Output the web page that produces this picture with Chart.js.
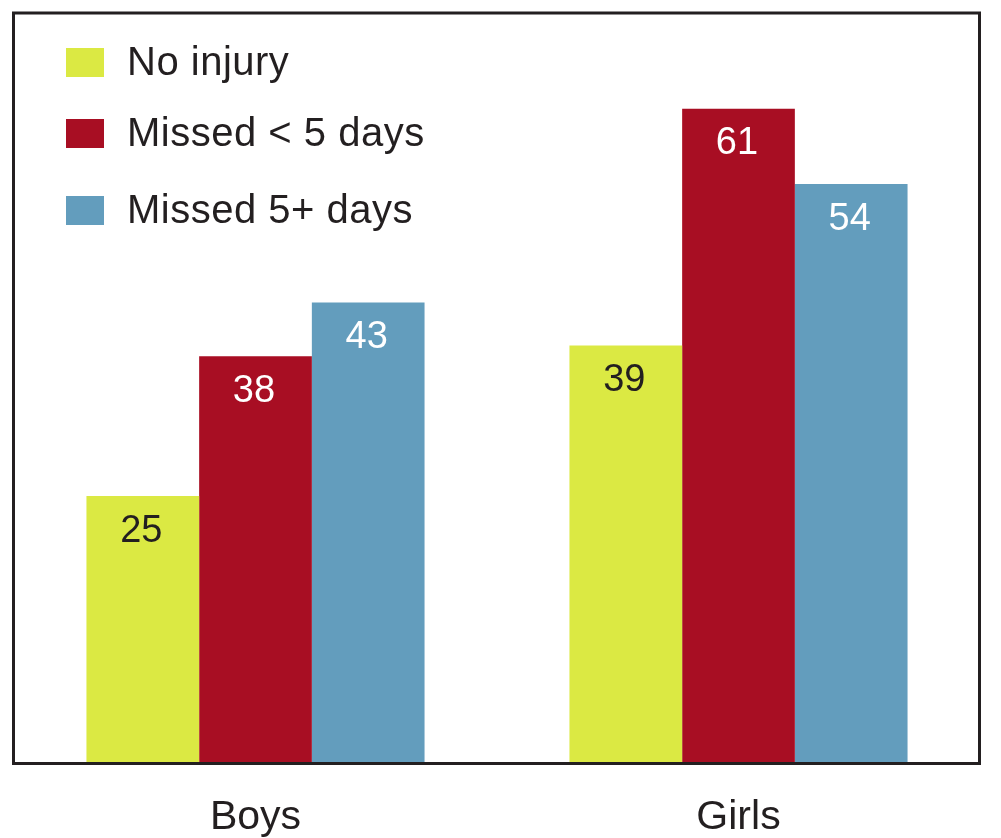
<!DOCTYPE html>
<html>
<head>
<meta charset="utf-8">
<script src="https://cdn.jsdelivr.net/npm/chart.js@4"></script>
<style>
  html, body { margin: 0; padding: 0; background: #fff; }
  #wrap { width: 1001px; height: 838px; }
</style>
</head>
<body>
<div id="wrap"><canvas id="chart"></canvas></div>
<script>
const categories = ["Boys", "Girls"];
const seriesNames = ["No injury", "Missed < 5 days", "Missed 5+ days"];
const noInjury = [25, 39];
const missedUnder5 = [38, 61];
const missed5Plus = [43, 54];
const colors = ["#dbe943", "#a80e23", "#639dbd"];
const labelColors = ["#231f20", "#ffffff", "#ffffff"];

const FONT = "'Liberation Sans', Arial, Helvetica, sans-serif";
const ink = "#231f20";

// frame around the plot area
const framePlugin = {
  id: "frame",
  afterDraw(chart) {
    const { ctx, chartArea: a } = chart;
    ctx.save();
    ctx.strokeStyle = ink;
    ctx.lineWidth = 3;
    ctx.strokeRect(a.left - 0.5, a.top + 1, a.right - a.left, a.bottom - a.top - 2.5);
    ctx.restore();
  }
};

// value labels inside the top of each bar
const valuePlugin = {
  id: "values",
  afterDatasetsDraw(chart) {
    const ctx = chart.ctx;
    ctx.save();
    ctx.font = "38px " + FONT;
    ctx.textAlign = "center";
    ctx.textBaseline = "middle";
    chart.data.datasets.forEach((ds, i) => {
      chart.getDatasetMeta(i).data.forEach((bar, j) => {
        ctx.fillStyle = labelColors[i];
        ctx.fillText(ds.data[j], bar.x - 1.5, bar.y + 35);
      });
    });
    ctx.restore();
  }
};

// legend inside the top-left corner
const legendPlugin = {
  id: "insideLegend",
  afterDraw(chart) {
    const ctx = chart.ctx;
    const rows = [62, 133, 210];
    ctx.save();
    ctx.font = "40px " + FONT;
    ctx.letterSpacing = "0.5px";
    ctx.textBaseline = "middle";
    chart.data.datasets.forEach((ds, i) => {
      ctx.fillStyle = ds.backgroundColor;
      ctx.fillRect(66, rows[i] - 14, 38, 29);
      ctx.fillStyle = ink;
      ctx.fillText(ds.label, 127, rows[i] + 2);
    });
    ctx.restore();
  }
};

new Chart(document.getElementById("chart"), {
  type: "bar",
  data: {
    labels: categories,
    datasets: [
      { label: seriesNames[0], data: noInjury, backgroundColor: colors[0] },
      { label: seriesNames[1], data: missedUnder5, backgroundColor: colors[1] },
      { label: seriesNames[2], data: missed5Plus, backgroundColor: colors[2] }
    ]
  },
  options: {
    responsive: true,
    maintainAspectRatio: false,
    animation: false,
    layout: { padding: { left: 14, right: 21, top: 12, bottom: 0 } },
    categoryPercentage: 0.7,
    barPercentage: 1.0,
    plugins: {
      legend: { display: false },
      tooltip: { enabled: false }
    },
    scales: {
      x: {
        grid: { display: false },
        border: { display: false },
        ticks: { color: ink, font: { family: FONT, size: 41 }, padding: 20 },
        afterFit(scale) { scale.height = 73; }
      },
      y: {
        display: false,
        min: 0,
        max: 70
      }
    }
  },
  plugins: [framePlugin, valuePlugin, legendPlugin]
});
</script>
</body>
</html>
